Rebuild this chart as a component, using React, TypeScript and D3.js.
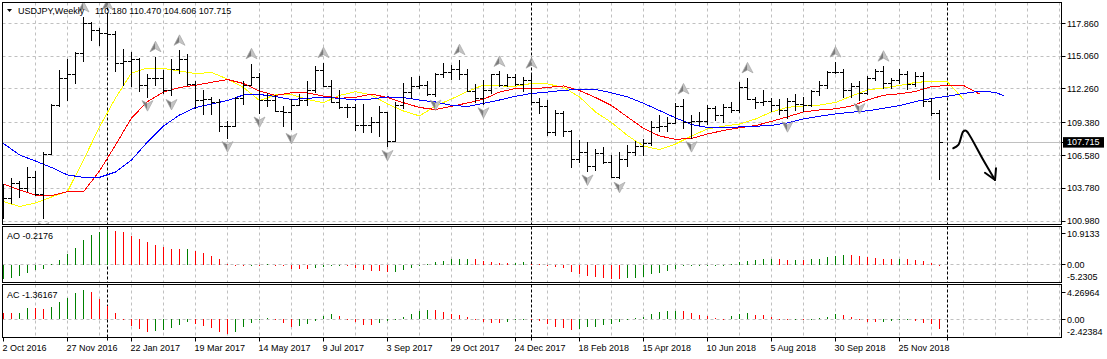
import React, { useEffect, useRef } from "react";
import * as d3 from "d3";

// ---------- DATA ----------
const symbolTitle = "USDJPY,Weekly";
const headerValues = "110.180 110.470 104.606 107.715";

const opens = [
  101.3, 102.95, 104.2, 103.8, 104.7, 103.3, 106.7, 110.9, 113.2, 113.5,
  115.3, 117.9, 117.3, 117.0, 116.95, 114.5, 114.6, 114.8, 112.6, 113.2,
  113.2, 112.2, 114.0, 114.8, 112.7, 111.3, 111.4, 111.1, 109.1, 109.1,
  111.5, 112.6, 113.3, 111.3, 111.3, 110.4, 110.3, 110.9, 111.3, 112.2,
  113.9, 112.5, 111.1, 110.7, 110.7, 109.15, 109.2, 109.4, 110.3, 107.85,
  110.9, 112.0, 112.5, 112.6, 111.8, 113.5, 113.7, 114.0, 113.5, 112.1,
  111.5, 112.15, 113.5, 112.6, 113.3, 112.7, 113.0, 111.1, 110.8, 108.6,
  110.2, 108.7, 106.3, 106.9, 105.7, 106.8, 106.0, 104.75, 106.3, 106.9,
  107.4, 107.6, 109.0, 109.1, 109.35, 110.8, 109.4, 109.5, 109.5, 110.65,
  110.0, 110.7, 110.5, 112.4, 111.4, 111.1, 111.2, 110.9, 110.5, 111.2,
  111.0, 110.9, 112.1, 112.6, 113.7, 113.7, 112.2, 112.5, 111.9, 113.2,
  113.8, 112.8, 113.0, 113.5, 112.7, 113.4, 111.25, 110.18,
];
const highs = [
  104.1, 104.65, 104.4, 105.6, 105.25, 106.9, 110.95, 113.9, 114.8, 115.4,
  118.4, 118.0, 117.45, 118.6, 117.2, 115.65, 115.45, 114.9, 113.5, 115.0,
  113.9, 114.8, 115.55, 115.2, 112.9, 112.2, 111.6, 111.4, 109.5, 111.6,
  112.9, 114.4, 113.6, 111.9, 111.7, 110.8, 111.4, 111.8, 112.9, 114.2,
  114.5, 113.0, 112.2, 111.0, 111.0, 111.0, 109.9, 110.8, 110.3, 111.1,
  112.8, 113.3, 113.4, 112.9, 113.6, 114.45, 114.3, 114.75, 113.95, 112.7,
  113.0, 113.55, 113.75, 113.5, 113.5, 113.3, 113.6, 111.5, 111.35, 110.5,
  110.4, 108.75, 107.9, 107.7, 107.1, 107.3, 106.6, 106.9, 107.5, 107.8,
  107.95, 109.5, 110.05, 109.9, 111.05, 111.4, 110.0, 110.3, 110.9, 110.8,
  111.0, 111.1, 112.85, 113.2, 111.6, 112.2, 111.5, 111.4, 111.45, 111.8,
  111.6, 112.2, 112.9, 113.75, 114.55, 113.95, 112.8, 112.9, 113.4, 114.0,
  114.2, 113.2, 114.0, 113.8, 113.7, 113.7, 111.45, 110.47,
];
const lows = [
  101.2, 102.5, 103.0, 103.55, 103.2, 101.2, 106.7, 110.8, 111.3, 112.8,
  114.6, 116.4, 116.0, 115.05, 113.75, 112.6, 112.5, 112.07, 111.6, 112.6,
  111.9, 111.7, 113.6, 112.6, 110.6, 110.1, 110.1, 108.7, 108.1, 109.1,
  111.0, 112.6, 110.2, 110.8, 110.4, 109.1, 108.8, 110.9, 110.9, 112.0,
  112.5, 111.1, 110.6, 109.9, 108.75, 108.6, 108.6, 108.2, 107.35, 107.85,
  110.6, 111.5, 112.3, 111.75, 111.65, 113.3, 113.1, 113.1, 112.05, 111.1,
  111.0, 111.95, 112.5, 112.5, 112.6, 112.1, 111.05, 110.2, 108.3, 108.3,
  108.2, 105.6, 106.0, 105.25, 105.3, 105.9, 104.75, 104.63, 105.65, 106.6,
  106.6, 107.5, 108.65, 108.65, 109.35, 108.95, 108.1, 109.2, 109.3, 109.6,
  109.4, 110.3, 110.3, 111.4, 110.6, 110.9, 110.4, 110.1, 109.8, 110.5,
  110.4, 110.8, 111.7, 112.3, 113.6, 111.6, 111.6, 111.35, 111.8, 113.0,
  112.3, 112.3, 112.8, 112.25, 112.5, 110.8, 110.0, 104.606,
];
const closes = [
  102.95, 104.2, 103.8, 104.7, 103.3, 106.7, 110.9, 113.2, 113.5, 115.3,
  117.9, 117.3, 117.0, 116.95, 114.5, 114.6, 114.8, 112.6, 113.2, 113.2,
  112.2, 114.0, 114.8, 112.7, 111.3, 111.4, 111.1, 109.1, 109.1, 111.5,
  112.6, 113.3, 111.3, 111.3, 110.4, 110.3, 110.9, 111.3, 112.2, 113.9,
  112.5, 111.1, 110.7, 110.7, 109.15, 109.2, 109.4, 110.3, 107.85, 110.9,
  112.0, 112.5, 112.6, 111.8, 113.5, 113.7, 114.0, 113.5, 112.1, 111.5,
  112.15, 113.5, 112.6, 113.3, 112.7, 113.0, 111.1, 110.8, 108.6, 110.2,
  108.7, 106.3, 106.9, 105.7, 106.8, 106.0, 104.75, 106.3, 106.9, 107.4,
  107.6, 109.0, 109.1, 109.35, 110.8, 109.4, 109.5, 109.5, 110.65, 110.0,
  110.7, 110.5, 112.4, 111.4, 111.1, 111.2, 110.9, 110.5, 111.2, 111.0,
  110.9, 112.1, 112.6, 113.7, 113.7, 112.2, 112.5, 111.9, 113.2, 113.8,
  112.8, 113.0, 113.5, 112.7, 113.4, 111.25, 110.2, 107.715,
];

// Alligator lines, read every second bar (jaw also at its last, shifted bar)
const jawValues = [
  107.6, 106.62, 106.1, 105.55, 104.91, 104.71, 104.71, 105.16, 106.19, 107.73,
  109.09, 110.03, 110.67, 110.97, 111.27, 111.74, 111.78, 111.61, 111.35, 111.46,
  111.54, 111.46, 111.31, 111.4, 111.57, 111.52, 111.31, 111.14, 110.86, 110.76,
  111.03, 111.31, 111.63, 111.87, 111.99, 112.14, 112.21, 112.21, 111.93, 111.57,
  111.03, 110.41, 109.79, 109.22, 108.96, 108.96, 109.01, 109.07, 109.15, 109.35,
  109.69, 109.92, 110.12, 110.27, 110.39, 110.6, 110.84, 111.18, 111.44, 111.63,
  111.87, 112.05, 111.97, 111.68,
];
const teethValues = [
  104.14, 103.63, 103.2, 103.14, 103.48, 103.48, 105.25, 107.47, 109.77, 111.18,
  111.99, 112.38, 112.57, 112.82, 113.06, 112.72, 112.08, 111.7, 111.93, 111.91,
  111.65, 111.46, 111.54, 111.82, 111.52, 111.08, 110.67, 110.5, 110.77, 111.06,
  111.37, 111.99, 112.29, 112.25, 112.38, 112.51, 112.12, 111.52, 110.84, 109.86,
  108.89, 108.24, 107.96, 108.02, 108.41, 108.71, 108.94, 109.13, 109.48, 109.88,
  110.29, 110.46, 110.56, 110.8, 111.31, 111.72, 111.84, 112.04, 112.46, 112.55,
  112.55, 111.82,
];
const lipsValues = [
  102.63, 102.22, 102.52, 103.03, 103.5, 106.19, 109.01, 111.48, 113.62, 114.04,
  114.0, 113.79, 113.57, 113.66, 113.1, 112.38, 111.27, 111.74, 111.78, 111.35,
  111.08, 111.7, 112.02, 111.74, 110.97, 110.37, 109.95, 110.8, 111.4, 112.04,
  112.59, 112.51, 112.49, 112.72, 112.68, 112.4, 111.57, 110.29, 109.39, 108.28,
  107.38, 107.08, 107.55, 108.24, 108.84, 109.07, 109.26, 109.69, 110.29, 110.69,
  110.8, 110.88, 111.1, 111.65, 112.17, 112.34, 112.55, 112.81, 112.91, 112.85,
  111.37,
];
const jawBars = d3.range(0, 125, 2).concat([125]);
const teethBars = d3.range(0, 123, 2);
const lipsBars = d3.range(0, 121, 2);

const upFractals = [10, 13, 19, 22, 31, 40, 57, 62, 66, 85, 93, 104, 110];
const downFractals = [5, 18, 21, 28, 32, 36, 48, 54, 60, 73, 77, 86, 98, 107];

const aoValues = [
  -4.41, -3.89, -3.28, -2.36, -1.54, -1.13, 0.3, 1.54, 3.28, 5.33,
  7.68, 9.22, 10.04, 10.91, 10.45, 10.04, 8.91, 7.99, 6.97, 6.15,
  5.64, 4.96, 4.9, 4.94, 4.3, 3.59, 2.87, 1.74, 0.25, 0.05,
  0.02, 0.1, 0.05, 0.25, 0.12, 0.06, -1.1, -1.25, -1.3, -1.0,
  -0.75, -0.3, -0.15, -0.35, -0.9, -1.5, -1.74, -2.0, -2.25, -2.05,
  -1.54, -1.02, -0.2, 0.3, 1.02, 1.33, 1.84, 1.95, 1.98, 1.9,
  1.33, 0.92, 0.75, 0.65, 0.72, 0.92, 0.4, 0.2, -0.05, -0.5,
  -1.0, -2.05, -2.87, -3.28, -3.59, -4.1, -4.41, -4.45, -4.1, -3.89,
  -3.59, -2.87, -2.36, -1.74, -1.13, -0.2, -0.05, 0.05, 0.08, 0.1,
  0.15, 0.3, 1.02, 1.23, 1.64, 1.84, 1.95, 1.9, 1.64, 1.68,
  1.62, 1.74, 1.95, 2.46, 2.87, 3.07, 3.0, 2.77, 2.36, 2.15,
  1.95, 1.9, 1.95, 1.9, 1.64, 1.23, 0.72, -0.2176,
];
const aoBefore = -4.6;
const acValues = [
  0.87, 0.85, 0.9, 1.7, 1.6, 1.5, 1.84, 2.47, 3.14, 3.77,
  4.26, 4.0, 2.95, 1.94, 0.87, 0.05, -0.97, -1.45, -1.89, -1.69,
  -1.55, -1.21, -0.82, -0.44, -0.73, -0.97, -1.21, -1.79, -2.18, -1.89,
  -1.06, -0.48, -0.1, 0.15, 0.0, -0.48, -1.06, -0.97, -0.73, -0.24,
  0.53, 0.73, 0.48, 0.0, -0.34, -0.82, -0.85, -0.58, -0.19, 0.02,
  0.29, 0.77, 1.21, 1.35, 1.33, 1.02, 0.73, 0.63, 0.39, 0.0,
  -0.44, -0.48, -0.58, -0.34, 0.0, 0.02, -0.08, -0.19, -0.73, -1.06,
  -1.31, -1.55, -1.45, -1.16, -1.06, -0.82, -0.73, -0.34, 0.02, 0.15,
  0.39, 0.77, 1.02, 1.21, 1.23, 1.2, 0.87, 0.63, 0.53, 0.15,
  0.05, 0.53, 0.73, 0.87, 0.63, 0.6, 0.39, 0.0, -0.05, 0.02,
  -0.1, 0.02, 0.15, 0.39, 0.73, 0.63, 0.39, 0.0, -0.34, -0.44,
  -0.34, -0.3, -0.1, -0.05, -0.24, -0.58, -0.73, -1.36167,
];
const acBefore = 0.95;

const aoLabel = "AO -0.2176";
const acLabel = "AC -1.36167";
const priceTicks = [117.86, 115.06, 112.26, 109.38, 106.58, 103.78, 100.98];
const priceTickLabels = ["117.860", "115.060", "112.260", "109.380", "106.580", "103.780", "100.980"];
const lastPrice = 107.715;
const lastPriceLabel = "107.715";
const aoRange = [-5.2305, 10.9133];
const aoRangeLabels = ["-5.2305", "10.9133"];
const acRange = [-2.42384, 4.26964];
const acRangeLabels = ["-2.42384", "4.26964"];
const dateLabels = [
  "2 Oct 2016", "27 Nov 2016", "22 Jan 2017", "19 Mar 2017", "14 May 2017",
  "9 Jul 2017", "3 Sep 2017", "29 Oct 2017", "24 Dec 2017", "18 Feb 2018",
  "15 Apr 2018", "10 Jun 2018", "5 Aug 2018", "30 Sep 2018", "25 Nov 2018",
];
const dateLabelStep = 8;
const gridStep = 4;
const yearSeparators = [13, 66, 118];
// hand-drawn arrow annotation (bar position, price)
const noteCurve: [number, number][] = [
  [118.66, 107.19], [119.29, 107.47], [119.91, 108.62], [120.25, 108.69],
  [120.54, 108.47], [122.41, 106.19], [123.88, 104.48],
];
const noteHead: [number, number][] = [[122.62, 105.1], [123.88, 104.48], [124.0, 105.48]];

const FONT = "'Liberation Sans', Arial, sans-serif";

export default function App() {
  const ref = useRef<SVGSVGElement | null>(null);

  useEffect(() => {
    if (!ref.current) return;
    const svg = d3.select(ref.current);
    svg.selectAll("*").remove();

    const L = 2.5;
    const R = 1061.5;
    const mainP = { top: 2.5, bottom: 224.5 };
    const aoP = { top: 226.5, bottom: 282.5 };
    const acP = { top: 284.5, bottom: 337.5 };

    const x = d3.scaleLinear().domain([0, 1]).range([4, 12]);
    const y = d3.scaleLinear().domain([priceTicks[0], priceTicks[6]]).range([23.3, 221]);
    const yAO = d3.scaleLinear().domain(aoRange).range([282, 229.5]);
    const yAC = d3.scaleLinear().domain(acRange).range([336, 289.9]);
    const crisp = (v: number) => Math.round(v) + 0.5;

    const defs = svg.append("defs");
    const addClip = (id: string, p: { top: number; bottom: number }) =>
      defs.append("clipPath").attr("id", id).append("rect")
        .attr("x", L + 0.5).attr("y", p.top + 0.5)
        .attr("width", R - L - 1).attr("height", p.bottom - p.top - 1);
    addClip("clipMain", mainP);
    addClip("clipAO", aoP);
    addClip("clipAC", acP);

    svg.append("rect").attr("width", 1107).attr("height", 359).attr("fill", "#ffffff");

    const gridColor = "#c0c0c0";
    const nGrid = Math.floor(132 / gridStep);

    const drawVGrid = (g: any, p: { top: number; bottom: number }) => {
      for (let k = 1; k <= nGrid; k++) {
        const gx = x(k * gridStep) - 0.5;
        if (gx >= R) continue;
        g.append("line").attr("x1", gx).attr("x2", gx).attr("y1", p.top).attr("y2", p.bottom)
          .attr("stroke", gridColor).attr("stroke-width", 1).attr("stroke-dasharray", "3,3");
      }
    };
    const drawSeparators = (g: any, p: { top: number; bottom: number }, extra = 0) => {
      yearSeparators.forEach((b) => {
        const sx = x(b) - 0.5;
        g.append("line").attr("x1", sx).attr("x2", sx).attr("y1", p.top).attr("y2", p.bottom + extra)
          .attr("stroke", "#000").attr("stroke-width", 1).attr("stroke-dasharray", "3,2");
      });
    };

    // ---------- MAIN PANEL ----------
    const gm = svg.append("g").attr("clip-path", "url(#clipMain)");
    drawVGrid(gm, mainP);
    priceTicks.forEach((t) => {
      const gy = crisp(y(t) - 0.5);
      gm.append("line").attr("x1", L).attr("x2", R).attr("y1", gy).attr("y2", gy)
        .attr("stroke", gridColor).attr("stroke-dasharray", "3,3");
    });
    const py = crisp(y(lastPrice) - 0.5);
    gm.append("line").attr("x1", L).attr("x2", R).attr("y1", py).attr("y2", py)
      .attr("stroke", "#c0c0c0").attr("stroke-width", 1);
    drawSeparators(gm, mainP);

    const lineGen = d3.line<[number, number]>().x((d) => x(d[0]) - 0.5).y((d) => y(d[1]));
    const drawLine = (bars: number[], vals: number[], color: string) => {
      const pts: [number, number][] = bars.map((b, i) => [b, vals[i]]);
      gm.append("path").attr("d", lineGen(pts) as string).attr("fill", "none")
        .attr("stroke", color).attr("stroke-width", 1).attr("shape-rendering", "crispEdges");
    };
    drawLine(lipsBars, lipsValues, "#ffff00");
    drawLine(teethBars, teethValues, "#ff0000");
    drawLine(jawBars, jawValues, "#0000ff");

    // OHLC bars
    opens.forEach((o, i) => {
      const cx = x(i) - 1; // left pixel column of the 1px bar
      const yh = Math.round(y(highs[i]));
      const yl = Math.round(y(lows[i]));
      gm.append("rect").attr("x", cx).attr("y", yh).attr("width", 1)
        .attr("height", Math.max(1, yl - yh + 1)).attr("fill", "#000");
      gm.append("rect").attr("x", cx - 3).attr("y", Math.round(y(o))).attr("width", 3)
        .attr("height", 1).attr("fill", "#000");
      gm.append("rect").attr("x", cx + 1).attr("y", Math.round(y(closes[i]))).attr("width", 3)
        .attr("height", 1).attr("fill", "#000");
    });

    // fractal arrows
    const drawArrow = (cx: number, cy: number, up: boolean) => {
      const s = up ? 1 : -1;
      const g = gm.append("g").attr("transform", `translate(${cx},${cy}) scale(1,${s})`);
      g.append("path").attr("d", "M0,-5.5 L-5.5,5 L0,2 Z").attr("fill", "#7c7c7c");
      g.append("path").attr("d", "M0,-5.5 L5.5,5 L0,2 Z").attr("fill", "#c4c4c4");
      g.append("path").attr("d", "M0,-5.5 L5.5,5 L0,2 L-5.5,5 Z").attr("fill", "none")
        .attr("stroke", "#a6a6a6").attr("stroke-width", 0.7);
    };
    upFractals.forEach((b) => drawArrow(x(b) - 0.5, y(highs[b]) - 10, true));
    downFractals.forEach((b) => drawArrow(x(b) - 0.5, y(lows[b]) + 9, false));

    // hand drawn arrow note
    const noteLine = d3.line<[number, number]>().x((d) => x(d[0])).y((d) => y(d[1])).curve(d3.curveCatmullRom);
    gm.append("path").attr("d", noteLine(noteCurve) as string).attr("fill", "none")
      .attr("stroke", "#000").attr("stroke-width", 2).attr("stroke-linecap", "round");
    gm.append("path").attr("d", d3.line<[number, number]>().x((d) => x(d[0])).y((d) => y(d[1]))(noteHead) as string)
      .attr("fill", "none").attr("stroke", "#000").attr("stroke-width", 2)
      .attr("stroke-linecap", "round").attr("stroke-linejoin", "round");

    // ---------- AO PANEL ----------
    const ga = svg.append("g").attr("clip-path", "url(#clipAO)");
    drawVGrid(ga, aoP);
    const aoZero = crisp(yAO(0) - 0.5);
    ga.append("line").attr("x1", L).attr("x2", R).attr("y1", aoZero).attr("y2", aoZero)
      .attr("stroke", gridColor).attr("stroke-dasharray", "3,3");
    drawSeparators(ga, aoP);
    aoValues.forEach((v, i) => {
      const prev = i === 0 ? aoBefore : aoValues[i - 1];
      const z = Math.round(yAO(0));
      const yv = Math.round(yAO(v));
      const top = Math.min(z, yv);
      const h = Math.max(1, Math.abs(yv - z));
      ga.append("rect").attr("x", x(i) - 1).attr("y", v >= 0 ? top : z).attr("width", 1).attr("height", h)
        .attr("fill", v > prev ? "#008000" : "#ff0000");
    });

    // ---------- AC PANEL ----------
    const gc = svg.append("g").attr("clip-path", "url(#clipAC)");
    drawVGrid(gc, acP);
    const acZero = crisp(yAC(0) - 0.5);
    gc.append("line").attr("x1", L).attr("x2", R).attr("y1", acZero).attr("y2", acZero)
      .attr("stroke", gridColor).attr("stroke-dasharray", "3,3");
    drawSeparators(gc, acP);
    acValues.forEach((v, i) => {
      const prev = i === 0 ? acBefore : acValues[i - 1];
      const z = Math.round(yAC(0));
      const yv = Math.round(yAC(v));
      const top = Math.min(z, yv);
      const h = Math.max(1, Math.abs(yv - z));
      gc.append("rect").attr("x", x(i) - 1).attr("y", v >= 0 ? top : z).attr("width", 1).attr("height", h)
        .attr("fill", v > prev ? "#008000" : "#ff0000");
    });

    // separators continue a bit below the last panel
    yearSeparators.forEach((b) => {
      const sx = x(b) - 0.5;
      svg.append("line").attr("x1", sx).attr("x2", sx).attr("y1", acP.bottom).attr("y2", acP.bottom + 5)
        .attr("stroke", "#000").attr("stroke-dasharray", "3,2");
    });

    // ---------- PANEL BORDERS ----------
    [mainP, aoP, acP].forEach((p) => {
      svg.append("rect").attr("x", L).attr("y", p.top).attr("width", R - L).attr("height", p.bottom - p.top)
        .attr("fill", "none").attr("stroke", "#000").attr("stroke-width", 1);
    });

    // ---------- TEXT ----------
    const text = (tx: number, ty: number, s: string, fill = "#000") =>
      svg.append("text").attr("x", tx).attr("y", ty).attr("font-family", FONT).attr("font-size", 9)
        .attr("fill", fill).text(s);

    // header
    svg.append("path").attr("d", "M7,9 L12,9 L9.5,12 Z").attr("fill", "#000");
    text(18, 14, symbolTitle);
    text(95, 14, headerValues);
    text(7, 239, aoLabel);
    text(7, 298.3, acLabel);

    // right price axis
    const rTick = (ty: number) =>
      svg.append("line").attr("x1", R).attr("x2", R + 4).attr("y1", ty).attr("y2", ty).attr("stroke", "#000");
    priceTicks.forEach((t, i) => {
      const ty = crisp(y(t) - 0.5);
      rTick(ty);
      text(1067, y(t) + 3.2, priceTickLabels[i]);
    });
    svg.append("rect").attr("x", 1063).attr("y", y(lastPrice) - 5).attr("width", 41).attr("height", 10.5).attr("fill", "#000");
    rTick(py);
    text(1067, y(lastPrice) + 3.2, lastPriceLabel, "#fff");

    // AO axis
    text(1067, yAO(aoRange[1]) + 7, aoRangeLabels[1]);
    rTick(crisp(yAO(aoRange[1]) + 3));
    text(1067, yAO(0) + 3.2, "0.00");
    rTick(aoZero);
    text(1067, yAO(aoRange[0]) - 2, aoRangeLabels[0]);
    // AC axis
    text(1067, yAC(acRange[1]) + 6.5, acRangeLabels[1]);
    rTick(crisp(yAC(acRange[1]) + 2.5));
    text(1067, yAC(0) + 3.2, "0.00");
    rTick(acZero);
    text(1067, yAC(acRange[0]) - 1, acRangeLabels[0]);

    // date axis
    dateLabels.forEach((s, k) => {
      const bx = x(k * dateLabelStep) - 0.5;
      svg.append("line").attr("x1", bx).attr("x2", bx).attr("y1", acP.bottom).attr("y2", acP.bottom + 4).attr("stroke", "#000");
      text(bx - 1, 350.7, s);
    });
  }, []);

  return (
    <div style={{ position: "absolute", left: 0, top: 0 }}>
      <svg ref={ref} width={1107} height={359} style={{ display: "block" }} />
    </div>
  );
}
